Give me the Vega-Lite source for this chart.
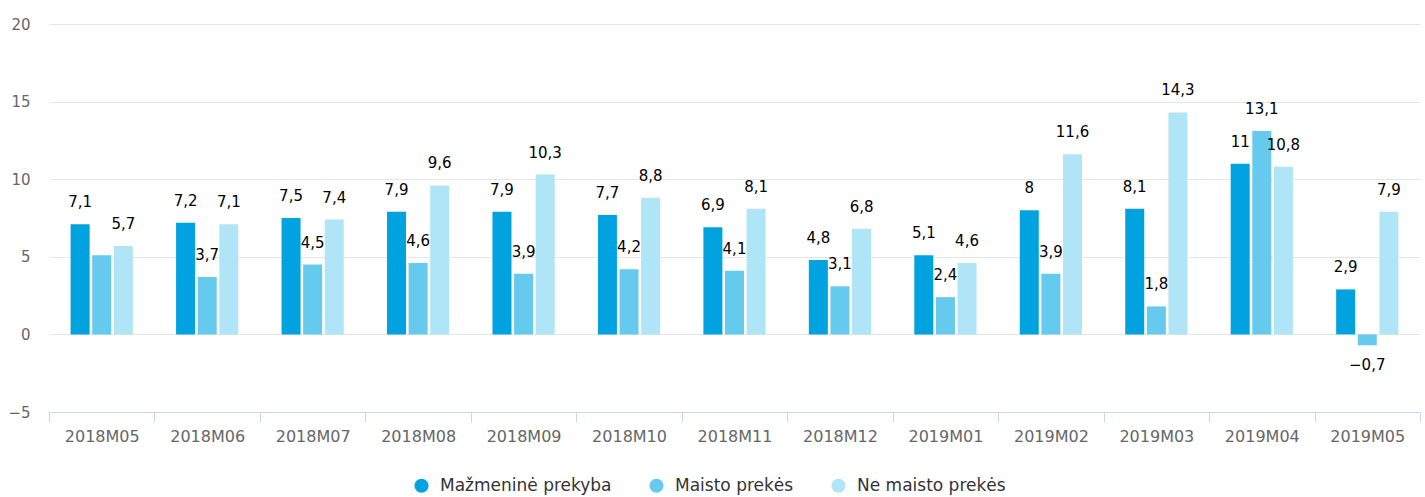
{
  "$schema": "https://vega.github.io/schema/vega-lite/v6.json",
  "width": 1371,
  "height": 388,
  "autosize": {"type": "none"},
  "padding": {"left": 49, "top": 24, "right": 5, "bottom": 85},
  "config": {
    "locale": {"number": {"decimal": ",", "thousands": " ", "grouping": [3], "currency": ["", " €"], "minus": "−"}},
    "view": {"stroke": null},
    "font": "DejaVu Sans"
  },
  "data": {
    "values": [
      {"month": "2018M05", "series": "Mažmeninė prekyba", "value": 7.1},
      {"month": "2018M05", "series": "Maisto prekės", "value": 5.1},
      {"month": "2018M05", "series": "Ne maisto prekės", "value": 5.7},
      {"month": "2018M06", "series": "Mažmeninė prekyba", "value": 7.2},
      {"month": "2018M06", "series": "Maisto prekės", "value": 3.7},
      {"month": "2018M06", "series": "Ne maisto prekės", "value": 7.1},
      {"month": "2018M07", "series": "Mažmeninė prekyba", "value": 7.5},
      {"month": "2018M07", "series": "Maisto prekės", "value": 4.5},
      {"month": "2018M07", "series": "Ne maisto prekės", "value": 7.4},
      {"month": "2018M08", "series": "Mažmeninė prekyba", "value": 7.9},
      {"month": "2018M08", "series": "Maisto prekės", "value": 4.6},
      {"month": "2018M08", "series": "Ne maisto prekės", "value": 9.6},
      {"month": "2018M09", "series": "Mažmeninė prekyba", "value": 7.9},
      {"month": "2018M09", "series": "Maisto prekės", "value": 3.9},
      {"month": "2018M09", "series": "Ne maisto prekės", "value": 10.3},
      {"month": "2018M10", "series": "Mažmeninė prekyba", "value": 7.7},
      {"month": "2018M10", "series": "Maisto prekės", "value": 4.2},
      {"month": "2018M10", "series": "Ne maisto prekės", "value": 8.8},
      {"month": "2018M11", "series": "Mažmeninė prekyba", "value": 6.9},
      {"month": "2018M11", "series": "Maisto prekės", "value": 4.1},
      {"month": "2018M11", "series": "Ne maisto prekės", "value": 8.1},
      {"month": "2018M12", "series": "Mažmeninė prekyba", "value": 4.8},
      {"month": "2018M12", "series": "Maisto prekės", "value": 3.1},
      {"month": "2018M12", "series": "Ne maisto prekės", "value": 6.8},
      {"month": "2019M01", "series": "Mažmeninė prekyba", "value": 5.1},
      {"month": "2019M01", "series": "Maisto prekės", "value": 2.4},
      {"month": "2019M01", "series": "Ne maisto prekės", "value": 4.6},
      {"month": "2019M02", "series": "Mažmeninė prekyba", "value": 8},
      {"month": "2019M02", "series": "Maisto prekės", "value": 3.9},
      {"month": "2019M02", "series": "Ne maisto prekės", "value": 11.6},
      {"month": "2019M03", "series": "Mažmeninė prekyba", "value": 8.1},
      {"month": "2019M03", "series": "Maisto prekės", "value": 1.8},
      {"month": "2019M03", "series": "Ne maisto prekės", "value": 14.3},
      {"month": "2019M04", "series": "Mažmeninė prekyba", "value": 11},
      {"month": "2019M04", "series": "Maisto prekės", "value": 13.1},
      {"month": "2019M04", "series": "Ne maisto prekės", "value": 10.8},
      {"month": "2019M05", "series": "Mažmeninė prekyba", "value": 2.9},
      {"month": "2019M05", "series": "Maisto prekės", "value": -0.7},
      {"month": "2019M05", "series": "Ne maisto prekės", "value": 7.9}
    ]
  },
  "encoding": {
    "x": {
      "field": "month", "type": "nominal", "title": null,
      "scale": {"paddingInner": 0, "paddingOuter": 0},
      "axis": {
        "tickBand": "extent", "labelAngle": 0, "domainColor": "#ccd6eb", "tickColor": "#ccd6eb",
        "tickSize": 10, "labelPadding": 6, "labelFontSize": 16, "labelColor": "#666666", "grid": false
      }
    },
    "xOffset": {
      "field": "series", "type": "nominal",
      "scale": {"domain": ["Mažmeninė prekyba", "Maisto prekės", "Ne maisto prekės"], "paddingInner": 0.12, "paddingOuter": 1.1}
    },
    "y": {
      "field": "value", "type": "quantitative", "title": null,
      "scale": {"domain": [-5, 20], "nice": false, "zero": false},
      "axis": {
        "values": [-5, 0, 5, 10, 15, 20], "domain": false, "ticks": false, "gridColor": "#e6e6e6",
        "labelPadding": 19, "labelFontSize": 15, "labelColor": "#666666"
      }
    }
  },
  "layer": [
    {
      "mark": {"type": "bar"},
      "encoding": {
        "color": {
          "field": "series", "type": "nominal", "title": null,
          "scale": {"domain": ["Mažmeninė prekyba", "Maisto prekės", "Ne maisto prekės"], "range": ["#00a3e0", "#66c9ee", "#b0e5f8"]},
          "legend": {
            "orient": "none", "legendX": 364, "legendY": 453, "direction": "horizontal",
            "symbolType": "circle", "symbolSize": 200, "symbolStrokeWidth": 0, "symbolOpacity": 1,
            "labelFontSize": 17, "labelColor": "#333333", "labelOffset": 10, "labelLimit": 400, "columnPadding": 36
          }
        }
      }
    },
    {
      "transform": [{"filter": "datum.value >= 0 && !(datum.month == '2018M05' && datum.series == 'Maisto prekės')"}],
      "mark": {"type": "text", "dy": -22, "fontSize": 15, "color": "#000000"},
      "encoding": {"text": {"field": "value", "type": "quantitative", "format": ".3~g"}}
    },
    {
      "transform": [{"filter": "datum.value < 0"}],
      "mark": {"type": "text", "dy": 20, "fontSize": 15, "color": "#000000"},
      "encoding": {"text": {"field": "value", "type": "quantitative", "format": ".3~g"}}
    }
  ]
}
